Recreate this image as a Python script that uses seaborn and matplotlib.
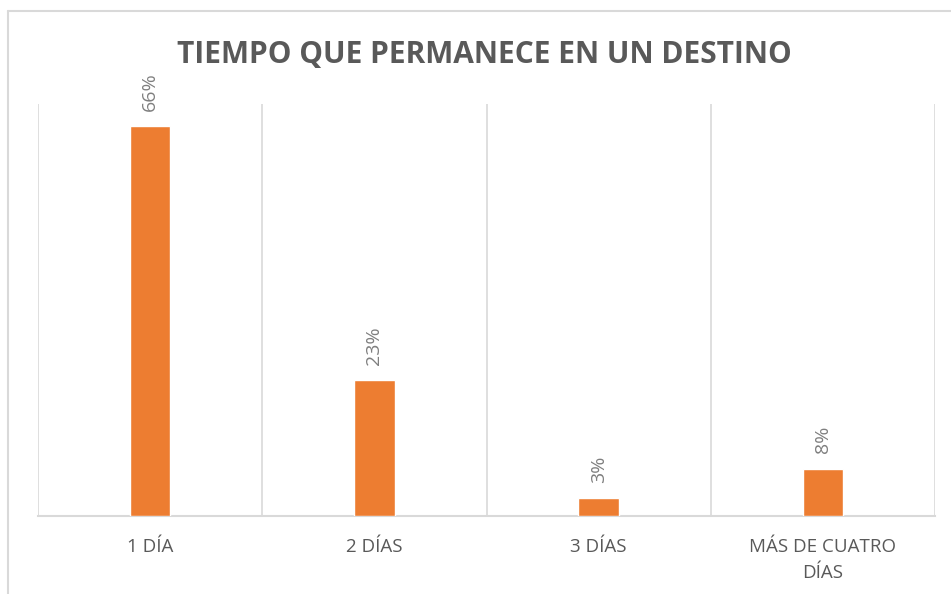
import matplotlib
matplotlib.use("Agg")
import matplotlib.pyplot as plt
from matplotlib.lines import Line2D
import seaborn as sns
import pandas as pd
import numpy as np

categories = ["1 DÍA", "2 DÍAS", "3 DÍAS", "MÁS DE CUATRO\nDÍAS"]
values = [66, 23, 3, 8]
labels = ["66%", "23%", "3%", "8%"]
title = "TIEMPO QUE PERMANECE EN UN DESTINO"

sns.set_theme(style="white")
plt.rcParams['font.family'] = ['Open Sans', 'DejaVu Sans']

df = pd.DataFrame({"cat": categories, "val": values})

fig = plt.figure(figsize=(9.51, 5.94), dpi=100)
ax = fig.add_axes([38/951, 1 - 516/594, (935 - 38)/951, (516 - 104)/594])

sns.barplot(data=df, x="cat", y="val", color="#ED7D31", width=0.18,
            saturation=1, ax=ax, zorder=3)

ax.set_xlim(-0.5, 3.5)
ax.set_ylim(0, 69.7)
ax.set_yticks([])
ax.set_xlabel("")
ax.set_ylabel("")

ax.set_xticks(np.arange(-0.5, 4, 1), minor=True)
ax.grid(True, which="minor", axis="x", color="#d9d9d9", linewidth=1.2, zorder=0)
ax.grid(False, which="major")
ax.tick_params(axis="x", which="both", length=0, pad=16)
ax.set_xticklabels(categories, fontsize=13.5, color="#595959", linespacing=1.55)

for s in ["top", "right", "left"]:
    ax.spines[s].set_visible(False)
ax.spines["bottom"].set_color("#d9d9d9")
ax.spines["bottom"].set_linewidth(1.5)

for i, (v, lab) in enumerate(zip(values, labels)):
    ax.annotate(lab, xy=(i, v), xytext=(0, 11), textcoords="offset points",
                rotation=90, ha="center", va="bottom", fontsize=14,
                color="#7f7f7f")

fig.text(484/951, 1 - 63/594, title, ha="center", va="baseline",
         fontsize=21.5, fontweight="bold", color="#595959")

# outer chart frame
fig.add_artist(Line2D([8/951, 1], [1 - 11/594, 1 - 11/594], color="#d9d9d9", linewidth=1.5))
fig.add_artist(Line2D([8/951, 8/951], [0, 1 - 11/594], color="#d9d9d9", linewidth=1.5))

fig.savefig("out.png", dpi=100, facecolor="white")
